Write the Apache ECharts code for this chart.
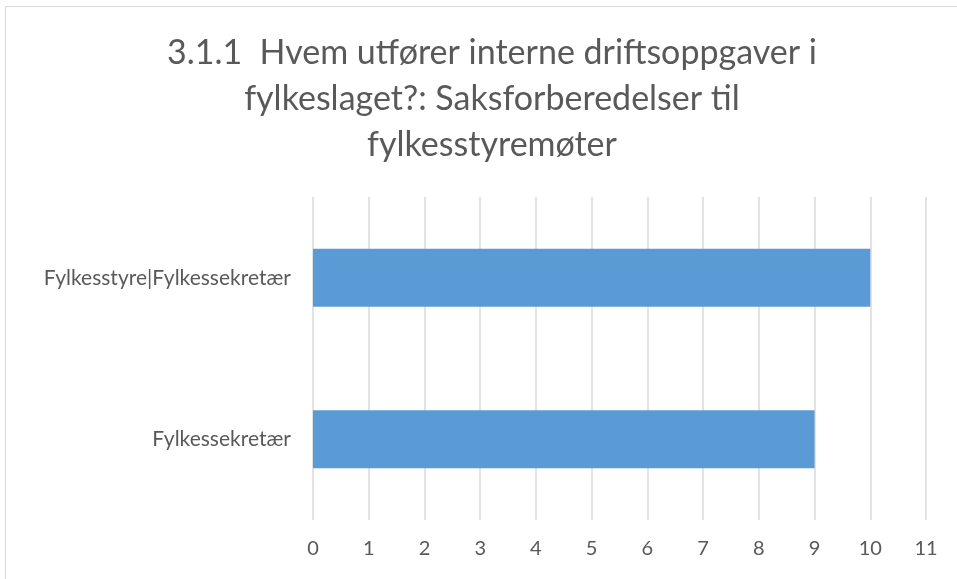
<!DOCTYPE html>
<html>
<head>
<meta charset="utf-8">
<script src="https://cdn.jsdelivr.net/npm/echarts@6/dist/echarts.min.js"></script>
<style>
  html, body { margin: 0; padding: 0; background: #fff; }
  #chart { width: 957px; height: 579px; }
</style>
</head>
<body>
<div id="chart"></div>
<script>
// data
const categories = ['Fylkessekretær', 'Fylkesstyre|Fylkessekretær'];
const counts = [9, 10];
const titleLines = [
  '3.1.1  Hvem utfører interne driftsoppgaver i',
  'fylkeslaget?: Saksforberedelser til',
  'fylkesstyremøter'
];

const textColor = '#595959';
const font = 'Lato, "Open Sans", sans-serif';

const chart = echarts.init(document.getElementById('chart'));
chart.setOption({
  animation: false,
  title: {
    text: titleLines.join('\n'),
    left: 487,
    textAlign: 'center',
    top: 25,
    textStyle: {
      color: textColor,
      fontFamily: font,
      fontWeight: 'normal',
      fontSize: 34,
      lineHeight: 46
    }
  },
  graphic: [{
    type: 'rect',
    shape: { x: 5.5, y: 6.5, width: 960, height: 580 },
    style: { fill: 'none', stroke: '#d9d9d9', lineWidth: 1 },
    silent: true
  }],
  grid: {
    left: 313,
    right: 31,
    top: 197,
    bottom: 59,
    containLabel: false
  },
  xAxis: {
    type: 'value',
    min: 0,
    max: 11,
    interval: 1,
    axisLine: { show: false },
    axisTick: { show: false },
    axisLabel: {
      color: textColor,
      fontFamily: font,
      fontSize: 20,
      margin: 19
    },
    splitLine: { lineStyle: { color: '#d9d9d9', width: 1.5 } }
  },
  yAxis: {
    type: 'category',
    data: categories,
    axisLine: { show: false },
    axisTick: { show: false },
    axisLabel: {
      color: textColor,
      fontFamily: font,
      fontSize: 21,
      margin: 22
    }
  },
  series: [{
    type: 'bar',
    data: counts,
    barWidth: 58,
    itemStyle: { color: '#5B9BD5' }
  }]
});
</script>
</body>
</html>
